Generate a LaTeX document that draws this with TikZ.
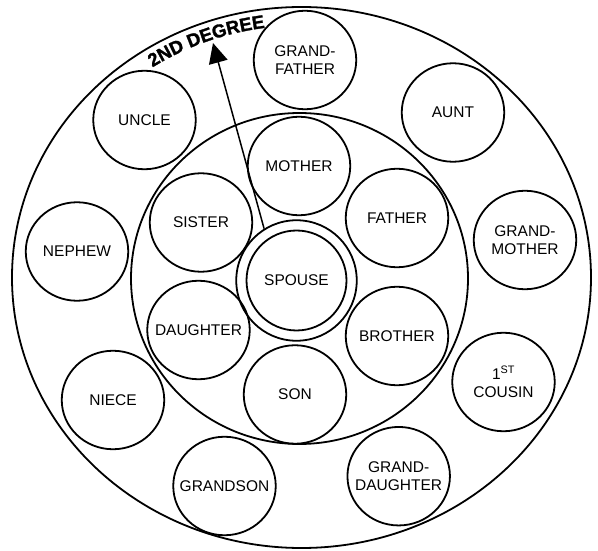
\documentclass[tikz,border=0pt]{standalone}
\usepackage{fontspec}
\setmainfont{Liberation Sans}
\newfontfamily\degfam{Liberation Sans Bold}[FakeBold=1.5]
\usetikzlibrary{shapes.geometric,arrows.meta,decorations.text}
\newcommand\lblfont{\fontsize{15.5}{18.3}\selectfont}
\newcommand\degfont{\degfam\fontsize{18.5}{20}\selectfont}
\begin{document}
\begin{tikzpicture}[x=1pt,y=1pt,
  ring/.style={draw,line width=1.8pt},
  lbl/.style={align=center,font=\lblfont,inner sep=0pt},
  person/.style={ellipse,draw,line width=1.8pt,minimum width=102.5pt,minimum height=98.5pt,inner sep=0pt},
  ]
\useasboundingbox (0,0) rectangle (598,550);
% degree rings
\draw[ring] (301.5,272.5) ellipse [x radius=289.5pt, y radius=270.5pt];
\draw[ring] (299.5,271.5) ellipse [x radius=168.5pt, y radius=165.5pt];
% spouse
\node[circle,draw,line width=1.8pt,minimum size=120.5pt,inner sep=0pt,label={[lbl]center:SPOUSE}] (spouse) at (296.5,269.5) {};
\draw[ring] (spouse.center) circle[radius=50pt];
% first degree
\node[person,label={[lbl]center:MOTHER}] (mother) at (299,384) {};
\node[person,label={[lbl]center:SISTER}] (sister) at (201,327.5) {};
\node[person,label={[lbl]center:FATHER}] (father) at (397,332) {};
\node[person,label={[lbl]center:DAUGHTER}] (daughter) at (198.5,220) {};
\node[person,label={[lbl]center:BROTHER}] (brother) at (397,214) {};
\node[person,label={[lbl]center:SON}] (son) at (295,155.5) {};
% second degree
\node[person,label={[lbl]center:GRAND-\\FATHER}] (grandfather) at (305,490) {};
\node[person,label={[lbl]center:UNCLE}] (uncle) at (144.5,430) {};
\node[person,label={[lbl]center:AUNT}] (aunt) at (453,437.5) {};
\node[person,label={[lbl]center:NEPHEW}] (nephew) at (77,298.5) {};
\node[person,label={[lbl]center:GRAND-\\MOTHER}] (grandmother) at (525,310) {};
\node[person,label={[lbl]center:NIECE}] (niece) at (113,150) {};
\node[person,label={[lbl]center:1\textsuperscript{ST}\\COUSIN}] (cousin) at (503.5,168) {};
\node[person,label={[lbl]center:GRANDSON}] (grandson) at (224.5,64) {};
\node[person,label={[lbl]center:GRAND-\\DAUGHTER}] (granddaughter) at (398.7,73.8) {};
% arrow and curved title
\coordinate (tip) at (213,507);
\draw[line width=1.5pt,-{Triangle[length=20pt,width=19pt]}] (spouse.122) -- (tip);
\path[decorate,decoration={text along path,text={|\degfont|2ND DEGREE},text align=left}]
  (301.5,272.5) ++(123.5:270pt and 252pt) arc[start angle=123.5,end angle=90,x radius=270pt,y radius=252pt];
\end{tikzpicture}
\end{document}
